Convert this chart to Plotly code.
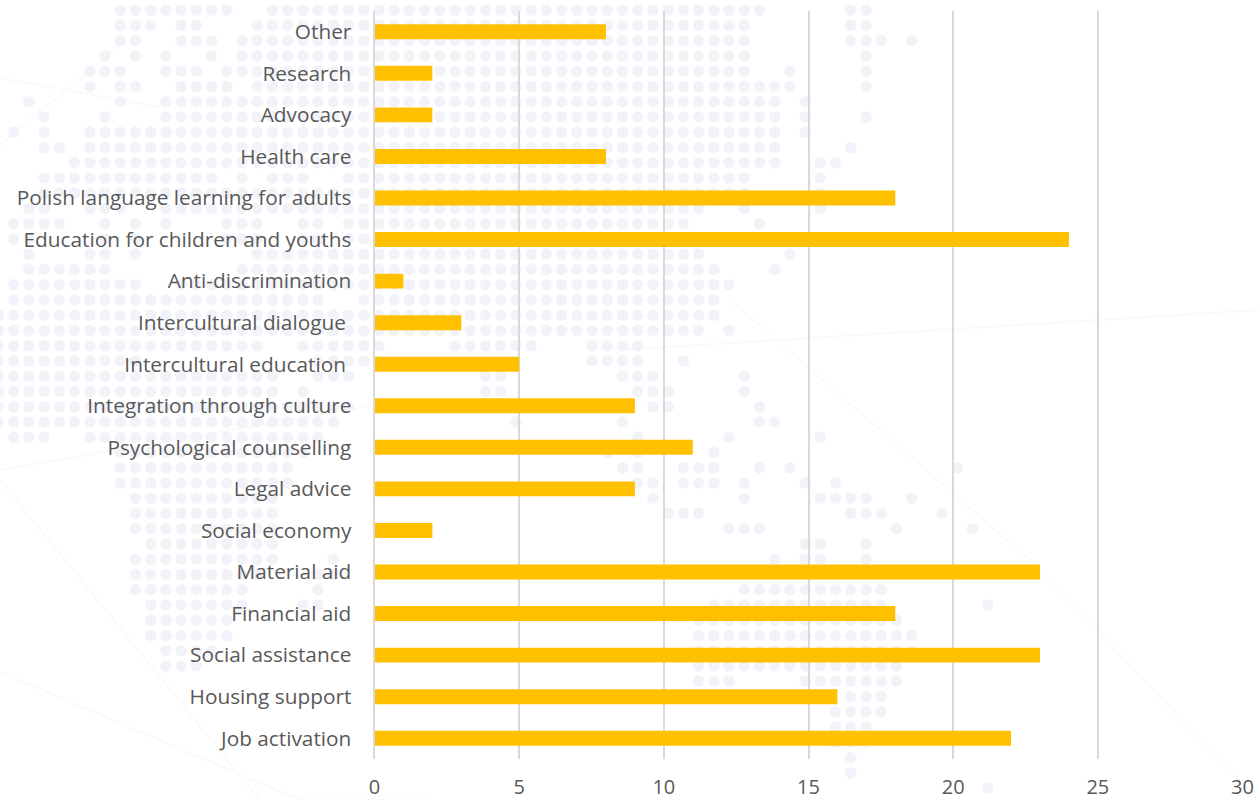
import plotly.graph_objects as go

categories = ["Job activation", "Housing support", "Social assistance", "Financial aid", "Material aid",
              "Social economy", "Legal advice", "Psychological counselling", "Integration through culture",
              "Intercultural education ", "Intercultural dialogue ", "Anti-discrimination",
              "Education for children and youths", "Polish language learning for adults", "Health care",
              "Advocacy", "Research", "Other"]
values = [22, 16, 23, 18, 23, 2, 9, 11, 9, 5, 3, 1, 24, 18, 8, 2, 2, 8]
x_ticks = [0, 5, 10, 15, 20, 25, 30]

# Decorative dotted-map backdrop: for each row of the dot lattice, runs of occupied columns.
dot_rows = [
    [(7, 14), (17, 49), (55, 56)],
    [(7, 9), (11, 12), (16, 48), (55, 56)],
    [(7, 8), (11, 13), (15, 48), (55, 57), (59, 59)],
    [(6, 6), (8, 8), (10, 10), (13, 13), (15, 48), (56, 56)],
    [(5, 7), (10, 12), (14, 48), (51, 51), (56, 56)],
    [(5, 5), (7, 8), (11, 14), (16, 51), (56, 56)],
    [(1, 1), (7, 7), (10, 50), (52, 52)],
    [(2, 2), (6, 6), (10, 50), (52, 52), (56, 56)],
    [(0, 0), (2, 2), (5, 50), (52, 52)],
    [(2, 3), (5, 50), (55, 55)],
    [(4, 50), (53, 54)],
    [(2, 13), (15, 15), (17, 19), (22, 48), (53, 53)],
    [(2, 48), (53, 53)],
    [(1, 2), (5, 7), (10, 45), (48, 48), (53, 53)],
    [(0, 3), (6, 6), (8, 8), (10, 10), (14, 16), (19, 20), (22, 44), (49, 49)],
    [(0, 1), (6, 6), (8, 8), (14, 16), (19, 20), (22, 48)],
    [(1, 1), (5, 6), (8, 8), (16, 45), (51, 51)],
    [(1, 6), (15, 46), (50, 50)],
    [(0, 8), (11, 47)],
    [(0, 20), (23, 46)],
    [(-1, 46)],
    [(-1, 45), (47, 47)],
    [(-1, 16), (19, 24), (29, 34), (38, 41)],
    [(-1, 8), (20, 24), (38, 41), (44, 44)],
    [(-1, 17), (20, 22), (31, 32), (40, 42), (48, 48)],
    [(-1, 17), (19, 19), (31, 32), (41, 43), (48, 48)],
    [(-1, 22), (42, 43), (49, 49)],
    [(-1, 21), (33, 33), (40, 40), (49, 50)],
    [(0, 2), (5, 20), (41, 41), (47, 47), (53, 53)],
    [(7, 19), (39, 39), (41, 41), (46, 46)],
    [(7, 18), (40, 41), (44, 46), (49, 49), (51, 51), (62, 62)],
    [(7, 18), (41, 42), (44, 46), (48, 48), (52, 52), (54, 54)],
    [(8, 17), (42, 42), (48, 48), (53, 56), (59, 59)],
    [(8, 17), (43, 45), (55, 57), (61, 61)],
    [(8, 17), (47, 49), (58, 58), (63, 63)],
    [(9, 17), (52, 53), (56, 56)],
    [(8, 17), (21, 21), (50, 50), (52, 53), (56, 56)],
    [(8, 16), (20, 21)],
    [(8, 15), (20, 20), (48, 57)],
    [(9, 15), (19, 20), (46, 57), (64, 64)],
    [(9, 14), (45, 58)],
    [(9, 14), (45, 59)],
    [(10, 13), (45, 59)],
    [(10, 12), (45, 58)],
    [(45, 47), (52, 58)],
    [(55, 57)],
    [(54, 57)],
    [(54, 56)],
    [(54, 56)],
    [(55, 55)],
    [(55, 55)],
    [(64, 64)],
]
# Very faint network lines of the backdrop, as pairs of picture points.
network_x = [[0, 160], [0, 120], [0, 260], [0, 300, 430], [620, 1258], [730, 1030, 1258], [0, 374]]
network_y = [[78, 107], [145, 45], [480, 800], [672, 800, 800], [350, 310], [300, 560, 800], [470, 405]]

dot_x, dot_y = [], []
for j, runs in enumerate(dot_rows):
    for a, b in runs:
        for k in range(a, b + 1):
            dot_x.append(13.67 + 15.22 * k)
            dot_y.append(10.3 + 15.25 * j)

fig = go.Figure()
for nx, ny in zip(network_x, network_y):
    fig.add_trace(go.Scatter(x=nx, y=ny, mode="lines", line=dict(color="#FAFAFA", width=2),
                             hoverinfo="skip", xaxis="x", yaxis="y"))
fig.add_trace(go.Scatter(x=dot_x, y=dot_y, mode="markers", hoverinfo="skip",
                         marker=dict(size=11.5, color="#F2F2F9", line_width=0), xaxis="x", yaxis="y"))
fig.add_trace(go.Bar(y=categories, x=values, orientation="h", marker_color="#FFC000", marker_line_width=0,
                     xaxis="x2", yaxis="y2"))
fig.update_layout(
    width=1258, height=800, autosize=False,
    margin=dict(l=0, r=0, t=0, b=0, pad=0),
    paper_bgcolor="white", plot_bgcolor="rgba(0,0,0,0)",
    bargap=0.64, showlegend=False,
    font=dict(family="Open Sans", size=20, color="#595959"),
    xaxis=dict(range=[0, 1258], domain=[0, 1], visible=False, fixedrange=True, automargin=False),
    yaxis=dict(range=[800, 0], domain=[0, 1], visible=False, fixedrange=True, automargin=False),
    xaxis2=dict(range=[0, 30], domain=[374.5 / 1258, 1242.5 / 1258], tickvals=x_ticks, showgrid=True,
                gridcolor="#D9D9D9", gridwidth=2, zeroline=False, ticks="", anchor="y2", side="bottom",
                automargin=False, ticklabelstandoff=14, tickfont=dict(size=20, color="#595959")),
    yaxis2=dict(domain=[41 / 800, 789 / 800], showgrid=False, showline=True, linecolor="#D9D9D9", linewidth=2,
                ticks="", ticklen=0, anchor="x2", side="left", automargin=False, ticklabelstandoff=17,
                tickfont=dict(size=20.8, color="#595959"), categoryorder="array", categoryarray=categories),
)
fig.write_html("out.html", config=dict(displayModeBar=False),
               post_script="document.body.style.margin='0';document.body.style.overflow='hidden';")
